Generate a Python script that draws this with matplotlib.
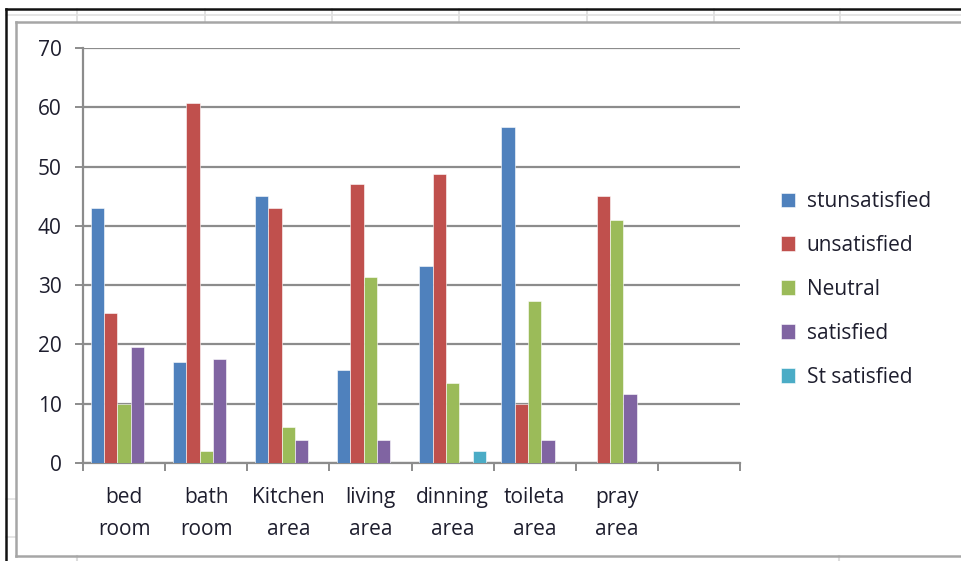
import matplotlib
matplotlib.use("Agg")
import matplotlib.pyplot as plt
from matplotlib.lines import Line2D
import numpy as np

plt.rcParams['font.family'] = ['Open Sans', 'DejaVu Sans']

categories = ["bed\nroom", "bath\nroom", "Kitchen\narea", "living\narea",
              "dinning\narea", "toileta\narea", "pray\narea", ""]
series_names = ["stunsatisfied", "unsatisfied", "Neutral", "satisfied", "St satisfied"]
stunsatisfied = [43, 17, 45.1, 15.7, 33.2, 56.7, 0, 0]
unsatisfied = [25.3, 60.8, 43, 47, 48.8, 10, 45.1, 0]
neutral = [10, 2, 6, 31.3, 13.5, 27.3, 41, 0]
satisfied = [19.5, 17.6, 3.9, 3.9, 0, 3.9, 11.7, 0]
st_satisfied = [0, 0, 0, 0, 2, 0, 0, 0]
colors = ["#4F81BD", "#C0504D", "#9BBB59", "#8064A2", "#4BACC6"]
yticks = [0, 10, 20, 30, 40, 50, 60, 70]

W, H = 962, 561
fig = plt.figure(figsize=(W / 100, H / 100), dpi=100)
fig.patch.set_facecolor("white")

def px(x, y):
    return x / W, 1 - y / H

def fline(x0, y0, x1, y1, color, lw):
    a = px(x0, y0); b = px(x1, y1)
    fig.add_artist(Line2D([a[0], b[0]], [a[1], b[1]], color=color, lw=lw,
                          transform=fig.transFigure))

# spreadsheet background decorations
for xv in [77, 205, 332, 459, 587, 714, 840]:
    fline(xv, 9, xv, 22, "#dcdcdc", 1.2)
fline(6, 15, W, 15, "#e0e0e0", 1.2)
for yv in [499, 537]:
    fline(6, yv, 16, yv, "#e0e0e0", 1.2)
for xv in [77, 839]:
    fline(xv, 556, xv, H, "#dcdcdc", 1.5)
# chart frame
fline(16, 22, W, 22, "#a6a6a6", 1.8)
fline(16, 22, 16, 556, "#a6a6a6", 1.8)
fline(16, 556, W, 556, "#a6a6a6", 1.8)
# outer black border
fline(6, 9, W, 9, "#111111", 1.8)
fline(6, 9, 6, H, "#111111", 1.8)

left, right, top, bottom = 83, 740, 48, 463
ax = fig.add_axes([left / W, 1 - bottom / H, (right - left) / W, (bottom - top) / H])
ax.set_facecolor("none")

data = [stunsatisfied, unsatisfied, neutral, satisfied, st_satisfied]
n = len(data)
gap = 1.17
w = 1.0 / (n + gap)
x = np.arange(len(categories))
for i, (vals, c, name) in enumerate(zip(data, colors, series_names)):
    ax.bar(x + gap / 2 * w + i * w, vals, width=w, align="edge", color=c,
           edgecolor="white", linewidth=0.4, label=name, zorder=3)

ax.set_xlim(0, len(categories))
ax.set_ylim(0, 70)
ax.set_yticks(yticks)
ax.set_yticklabels([str(t) for t in yticks])
ax.yaxis.grid(True, color="#8c8c8c", linewidth=1.6, zorder=0)
ax.set_axisbelow(True)

txtc = "#1e1e2e"
fs = 15
ax.set_xticks(np.arange(len(categories) + 1))
ax.set_xticklabels([])
ax.set_xticks(x + 0.5, minor=True)
ax.set_xticklabels(categories, minor=True, fontsize=fs, color=txtc,
                   linespacing=1.65)
ax.tick_params(axis="x", which="minor", length=0, pad=17.5)
ax.tick_params(axis="x", which="major", direction="out", length=5.5,
               width=1.4, color="#8c8c8c")
ax.tick_params(axis="y", direction="out", length=5.5, width=1.4,
               color="#8c8c8c", labelsize=fs, labelcolor=txtc, pad=10)

for s in ["top", "right"]:
    ax.spines[s].set_visible(False)
for s in ["left", "bottom"]:
    ax.spines[s].set_color("#8c8c8c")
    ax.spines[s].set_linewidth(1.6)

leg = fig.legend(loc="upper left", bbox_to_anchor=px(781, 191), frameon=False,
                 fontsize=fs, handlelength=0.68, handleheight=0.68,
                 handletextpad=0.55, labelspacing=1.1, borderaxespad=0,
                 borderpad=0)
for t in leg.get_texts():
    t.set_color(txtc)

fig.savefig("out.png", dpi=100)
